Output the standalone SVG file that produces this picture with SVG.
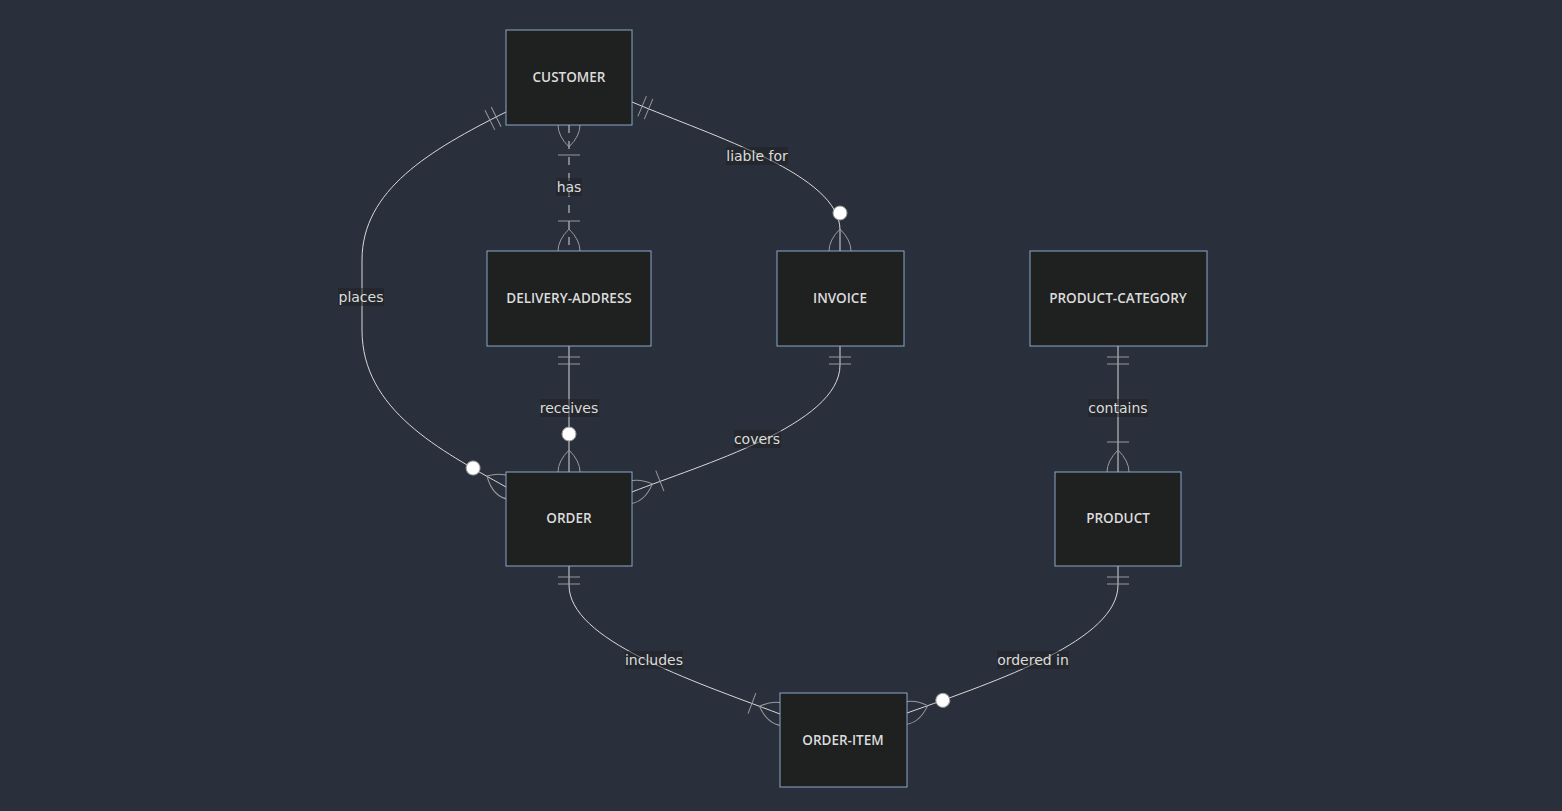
<svg xmlns="http://www.w3.org/2000/svg" xmlns:xlink="http://www.w3.org/1999/xlink" width="1562" height="811" viewBox="0 0 1562 811">
<style>
.bg{fill:#29303c}
.edge{fill:none;stroke:#d8d8d8;stroke-width:1}
.dash{stroke-dasharray:8,8}
.mk{fill:none;stroke:#9a9a9a;stroke-width:1}
.dot{fill:#ffffff;stroke:#9a9a9a;stroke-width:1}
.lblbg{fill:#1f2020;fill-opacity:0.5}
.lbl{font-family:"DejaVu Sans",sans-serif;font-size:14px;fill:#dcdcdc;text-anchor:middle;dominant-baseline:central}
.ent rect{fill:#1f2020;stroke:#8aa7c9;stroke-width:1}
.ent text{font-family:"Open Sans","DejaVu Sans",sans-serif;font-size:13.5px;font-weight:600;fill:#dcdcdc;text-anchor:middle;dominant-baseline:central}
</style>
<defs>
<path id="lens" class="mk" d="M-22,0 Q0,22 22,0 Q0,-22 -22,0"/>
<path id="one" class="mk" d="M11,-11V11M18,-11V11"/>
<g id="oneMany"><use xlink:href="#lens"/><path class="mk" d="M30,-11V11"/></g>
<g id="zeroMany"><use xlink:href="#lens"/><circle class="dot" cx="38" cy="0" r="7"/></g>
</defs>
<rect class="bg" x="0" y="0" width="1562" height="811"/>
<g id="connectors">
  <path class="edge dash" d="M569,125 L569,251"/>
  <path class="edge" d="M632,102 C715,137 840,175 840,230 L840,251"/>
  <path class="edge" d="M506,112 C430,150 362,190 362,260 L362,330 C362,410 440,450 506,487"/>
  <path class="edge" d="M569,346 L569,472"/>
  <path class="edge" d="M840,346 L840,365 C840,425 700,465 632,492"/>
  <path class="edge" d="M569,566 L569,585 C569,640 690,680 780,714"/>
  <path class="edge" d="M1118,566 L1118,585 C1118,640 1000,680 907,713"/>
  <path class="edge" d="M1118,346 L1118,472"/>
  <use xlink:href="#oneMany" transform="translate(569,125) rotate(90)"/>
  <use xlink:href="#oneMany" transform="translate(569,251) rotate(-90)"/>
  <use xlink:href="#one" transform="translate(632,102) rotate(22.9)"/>
  <use xlink:href="#zeroMany" transform="translate(840,251) rotate(-90)"/>
  <use xlink:href="#one" transform="translate(506,112) rotate(153.4)"/>
  <use xlink:href="#zeroMany" transform="translate(506,487) rotate(210)"/>
  <use xlink:href="#one" transform="translate(569,346) rotate(90)"/>
  <use xlink:href="#zeroMany" transform="translate(569,472) rotate(-90)"/>
  <use xlink:href="#one" transform="translate(840,346) rotate(90)"/>
  <use xlink:href="#oneMany" transform="translate(632,492) rotate(-21.7)"/>
  <use xlink:href="#one" transform="translate(569,566) rotate(90)"/>
  <use xlink:href="#oneMany" transform="translate(780,714) rotate(200.7)"/>
  <use xlink:href="#one" transform="translate(1118,566) rotate(90)"/>
  <use xlink:href="#zeroMany" transform="translate(907,713) rotate(-19.5)"/>
  <use xlink:href="#one" transform="translate(1118,346) rotate(90)"/>
  <use xlink:href="#oneMany" transform="translate(1118,472) rotate(-90)"/>
  <rect class="lblbg" x="556" y="178" width="26" height="18"/>
  <text class="lbl" x="569" y="187">has</text>
  <rect class="lblbg" x="726" y="147" width="62" height="18"/>
  <text class="lbl" x="757" y="156">liable for</text>
  <rect class="lblbg" x="338" y="288" width="46" height="18"/>
  <text class="lbl" x="361" y="297">places</text>
  <rect class="lblbg" x="540" y="399" width="59" height="18"/>
  <text class="lbl" x="569" y="408">receives</text>
  <rect class="lblbg" x="734" y="430" width="47" height="18"/>
  <text class="lbl" x="757" y="439">covers</text>
  <rect class="lblbg" x="1088" y="399" width="60" height="18"/>
  <text class="lbl" x="1118" y="408">contains</text>
  <rect class="lblbg" x="625" y="651" width="58" height="18"/>
  <text class="lbl" x="654" y="660">includes</text>
  <rect class="lblbg" x="997" y="651" width="72" height="18"/>
  <text class="lbl" x="1033" y="660">ordered in</text>
</g>
<g id="CUSTOMER" class="ent"><rect x="506" y="30" width="126" height="95"/><text x="569" y="77">CUSTOMER</text></g>
<g id="DELIVERY-ADDRESS" class="ent"><rect x="487" y="251" width="164" height="95"/><text x="569" y="298">DELIVERY-ADDRESS</text></g>
<g id="INVOICE" class="ent"><rect x="777" y="251" width="127" height="95"/><text x="840" y="298">INVOICE</text></g>
<g id="PRODUCT-CATEGORY" class="ent"><rect x="1030" y="251" width="177" height="95"/><text x="1118" y="298">PRODUCT-CATEGORY</text></g>
<g id="ORDER" class="ent"><rect x="506" y="472" width="126" height="94"/><text x="569" y="518">ORDER</text></g>
<g id="PRODUCT" class="ent"><rect x="1055" y="472" width="126" height="94"/><text x="1118" y="518">PRODUCT</text></g>
<g id="ORDER-ITEM" class="ent"><rect x="780" y="693" width="127" height="94"/><text x="843" y="740">ORDER-ITEM</text></g>
</svg>
